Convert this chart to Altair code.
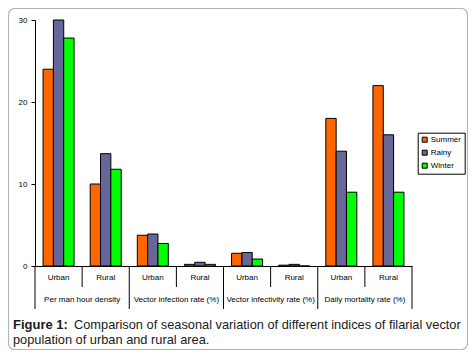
import altair as alt
import pandas as pd

groups = ["Per man hour density", "Vector infection rate (%)",
          "Vector infectivity rate (%)", "Daily mortality rate (%)"]
areas = ["Urban", "Rural"]
seasons = ["Summer", "Rainy", "Winter"]
colors = ["#FF6600", "#666699", "#00FF00"]

summer = [24, 10, 3.75, 0.2, 1.55, 0.1, 18, 22]
rainy = [30, 13.7, 3.9, 0.45, 1.65, 0.2, 14, 16]
winter = [27.8, 11.8, 2.75, 0.2, 0.85, 0, 9, 9]

y_ticks = [0, 10, 20, 30]
caption_bold = "Figure 1:"
caption_1 = "Comparison of seasonal variation of different indices of filarial vector"
caption_2 = "population of urban and rural area."

FONT = "Arial, Liberation Sans, sans-serif"
W, H = 377, 246

subs = [f"{g}|{a}" for g in groups for a in areas]
sub_group = [g for g in groups for a in areas]
sub_area = [a for g in groups for a in areas]

rows = []
for s, vals in zip(seasons, [summer, rainy, winter]):
    for k, v in zip(subs, vals):
        rows.append({"sub": k, "season": s, "value": v})
bars_df = pd.DataFrame(rows)

sub_df = pd.DataFrame({"sub": subs, "group": sub_group, "area": sub_area})
urban_df = sub_df[sub_df["area"] == "Urban"]
rural_df = sub_df[sub_df["area"] == "Rural"]
last_df = sub_df.tail(1)

xscale = alt.Scale(domain=subs, paddingInner=0, paddingOuter=0)

bars = alt.Chart(bars_df).mark_bar(stroke="black", strokeWidth=1).encode(
    x=alt.X("sub:N", scale=xscale,
            axis=alt.Axis(labels=False, ticks=False, title=None,
                          domainColor="black", domainWidth=1, zindex=1)),
    xOffset=alt.XOffset("season:N", sort=seasons,
                        scale=alt.Scale(domain=seasons, paddingInner=0, paddingOuter=0.78)),
    y=alt.Y("value:Q", scale=alt.Scale(domain=[0, 30], nice=False),
            axis=alt.Axis(values=y_ticks, grid=False, title=None,
                          labelFontSize=8, labelColor="black", labelFont=FONT,
                          tickColor="black", domainColor="black", tickSize=4,
                          labelPadding=4, zindex=1)),
    color=alt.Color("season:N", sort=seasons,
                    scale=alt.Scale(domain=seasons, range=colors),
                    legend=alt.Legend(orient="none", legendX=382.7, legendY=112.7,
                                      title=None, strokeColor="black", fillColor="white",
                                      padding=3, symbolType="square", symbolSize=25,
                                      symbolStrokeColor="black", symbolStrokeWidth=1,
                                      labelFontSize=8, labelFont=FONT, labelColor="black",
                                      rowPadding=3, labelOffset=2)),
)

full_sep = alt.Chart(urban_df).mark_rule(color="black", strokeWidth=1).encode(
    x=alt.X("sub:N", scale=xscale, bandPosition=0),
    y=alt.value(H), y2=alt.value(289),
)
end_sep = alt.Chart(last_df).mark_rule(color="black", strokeWidth=1).encode(
    x=alt.X("sub:N", scale=xscale, bandPosition=1),
    y=alt.value(H), y2=alt.value(289),
)
short_sep = alt.Chart(rural_df).mark_rule(color="black", strokeWidth=1).encode(
    x=alt.X("sub:N", scale=xscale, bandPosition=0),
    y=alt.value(H), y2=alt.value(267),
)
area_lbl = alt.Chart(sub_df).mark_text(fontSize=8, font=FONT, color="black",
                                       baseline="alphabetic").encode(
    x=alt.X("sub:N", scale=xscale, bandPosition=0.5),
    y=alt.value(260), text="area:N",
)
group_lbl = alt.Chart(rural_df).mark_text(fontSize=8, font=FONT, color="black",
                                          baseline="alphabetic").encode(
    x=alt.X("sub:N", scale=xscale, bandPosition=0),
    y=alt.value(281.7), text="group:N",
)

frame = alt.Chart(pd.DataFrame({"k": [0]})).mark_rect(
    fill="transparent", stroke="#b4b4b4", strokeWidth=1.2, cornerRadius=6).encode(
    x=alt.value(-26.5), x2=alt.value(432.5), y=alt.value(-11.5), y2=alt.value(329.5))

cap_b = alt.Chart(pd.DataFrame({"t": [caption_bold]})).mark_text(
    fontSize=13, fontWeight="bold", font=FONT, color="#1a1a1a",
    align="left", baseline="alphabetic").encode(
    x=alt.value(-22), y=alt.value(308.5), text="t:N")
cap_1 = alt.Chart(pd.DataFrame({"t": [caption_1]})).mark_text(
    fontSize=12.8, font=FONT, color="#1a1a1a",
    align="left", baseline="alphabetic").encode(
    x=alt.value(39), y=alt.value(308.5), text="t:N")
cap_2 = alt.Chart(pd.DataFrame({"t": [caption_2]})).mark_text(
    fontSize=12.8, font=FONT, color="#1a1a1a",
    align="left", baseline="alphabetic").encode(
    x=alt.value(-22), y=alt.value(323.5), text="t:N")

chart = alt.layer(frame, bars, full_sep, end_sep, short_sep, area_lbl, group_lbl,
                  cap_b, cap_1, cap_2).properties(
    width=W, height=H,
    autosize=alt.AutoSizeParams(type="none"),
    padding={"left": 27, "top": 12, "right": 56, "bottom": 84},
    background="white",
).configure_view(stroke=None)

chart.save("out.html", embed_options={"renderer": "svg", "actions": False})
